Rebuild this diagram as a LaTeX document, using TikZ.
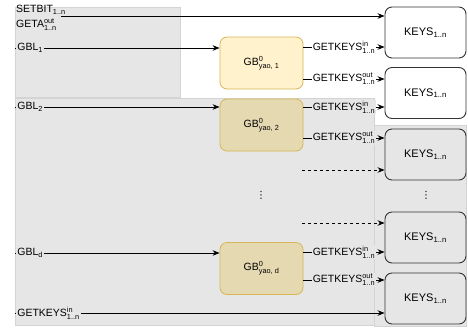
\documentclass[tikz,border=0pt]{standalone}
\usepackage{amsmath}
\usepackage{fontspec}
\setmainfont{Liberation Sans}
\newfontfamily\symfont{DejaVu Sans}
\usetikzlibrary{arrows.meta}
\definecolor{bggray}{HTML}{E6E6E6}
\definecolor{bgline}{HTML}{D4D4D4}
\definecolor{gbfill}{HTML}{FFF2CC}
\definecolor{gbdark}{HTML}{E5D9B2}
\definecolor{gbline}{HTML}{D6B656}
\newcommand{\io}[2]{$^{\text{#1}}_{\text{#2}}$}

\begin{document}
\begin{tikzpicture}[x=1pt,y=-1pt,
  key node/.style={rectangle,rounded corners=7pt,draw=black!80,line width=0.9pt,fill=white,minimum width=81pt,minimum height=51pt,font=\fontsize{11}{13}\selectfont},
  gb node/.style={rectangle,rounded corners=7pt,draw=gbline,line width=0.8pt,fill=gbfill,minimum width=83pt,minimum height=52pt,font=\fontsize{10.5}{12}\selectfont},
  arr/.style={-{Stealth[length=7pt,width=5.5pt]},line width=0.8pt,black},
  lbl/.style={inner sep=1pt,fill=bggray,font=\fontsize{10.5}{12}\selectfont},
  dots/.style={inner sep=0pt,font=\symfont\fontsize{10}{10}\selectfont}]
  \useasboundingbox (0,0) rectangle (468,330);

  % grey areas
  \filldraw[fill=bggray,draw=bgline,line width=0.5pt] (15,7) rectangle (180,97);
  \filldraw[fill=bggray,draw=bgline,line width=0.5pt] (15,98) rectangle (374,325);
  \filldraw[fill=bggray,draw=bgline,line width=0.5pt] (374,125) rectangle (466,326);

  \node[key node] (k1) at (425.5,32.5) {KEYS$_{\text{1..n}}$};
  \node[key node] (k2) at (425.5,93) {KEYS$_{\text{1..n}}$};
  \node[key node,fill=bggray] (k3) at (425.5,154.5) {KEYS$_{\text{1..n}}$};
  \node[key node,fill=bggray] (k4) at (425.5,237.5) {KEYS$_{\text{1..n}}$};
  \node[key node,fill=bggray] (k5) at (425.5,298.5) {KEYS$_{\text{1..n}}$};
  \node[gb node] (gb1) at (261.5,63) {GB$^{\text{0}}_{\text{yao, 1}}$};
  \node[gb node,fill=gbdark] (gb2) at (261.5,125) {GB$^{\text{0}}_{\text{yao, 2}}$};
  \node[gb node,fill=gbdark] (gbd) at (261.5,268.5) {GB$^{\text{0}}_{\text{yao, d}}$};
  \node[dots] (v1) at (261,195) {⋮};
  \node[dots] (v2) at (426,195) {⋮};

  \coordinate (s0) at (61,16);
  \coordinate (s1) at (15,48);
  \coordinate (s2) at (15,107);
  \coordinate (sd) at (15,253);
  \coordinate (s9) at (15,313);
  \coordinate (d1) at (302,170);
  \coordinate (d2) at (302,223);
  \coordinate (g1i) at ([yshift=16pt]gb1.east);
  \coordinate (g1o) at ([yshift=-16pt]gb1.east);
  \coordinate (g2i) at ([yshift=18pt]gb2.east);
  \coordinate (g2o) at ([yshift=-13pt]gb2.east);
  \coordinate (gdi) at ([yshift=16.5pt]gbd.east);
  \coordinate (gdo) at ([yshift=-11.5pt]gbd.east);

  \node[lbl,fill=none,anchor=north west,align=left,font=\fontsize{10.5}{15}\selectfont] (setbit) at (15,4) {SETBIT$_{\text{1..n}}$\\GETA\io{out}{1..n}};
  \path (s0) edge[arr] (s0 -| k1.west);
  \path (s1) edge[arr] node[lbl,pos=0,anchor=west,xshift=1pt] {GBL$_{\text{1}}$} (s1 -| gb1.west);
  \path (s2) edge[arr] node[lbl,pos=0,anchor=west,xshift=1pt] {GBL$_{\text{2}}$} (s2 -| gb2.west);
  \path (sd) edge[arr] node[lbl,pos=0,anchor=west,xshift=1pt] {GBL$_{\text{d}}$} (sd -| gbd.west);
  \path (s9) edge[arr] node[lbl,pos=0,anchor=west,xshift=1pt] {GETKEYS\io{in}{1..n}} (s9 -| k5.west);

  \path (g1i) edge[arr] node[lbl,fill=white] {GETKEYS\io{in}{1..n}} (g1i -| k1.west);
  \path (g1o) edge[arr] node[lbl,fill=white] {GETKEYS\io{out}{1..n}} (g1o -| k2.west);
  \path (g2i) edge[arr] node[lbl] {GETKEYS\io{in}{1..n}} (g2i -| k2.west);
  \path (g2o) edge[arr] node[lbl] {GETKEYS\io{out}{1..n}} (g2o -| k3.west);
  \path (gdi) edge[arr] node[lbl] {GETKEYS\io{in}{1..n}} (gdi -| k4.west);
  \path (gdo) edge[arr] node[lbl] {GETKEYS\io{out}{1..n}} (gdo -| k5.west);
  \path (d1) edge[arr,dashed] (d1 -| k3.west);
  \path (d2) edge[arr,dashed] (d2 -| k4.west);
\end{tikzpicture}
\end{document}
